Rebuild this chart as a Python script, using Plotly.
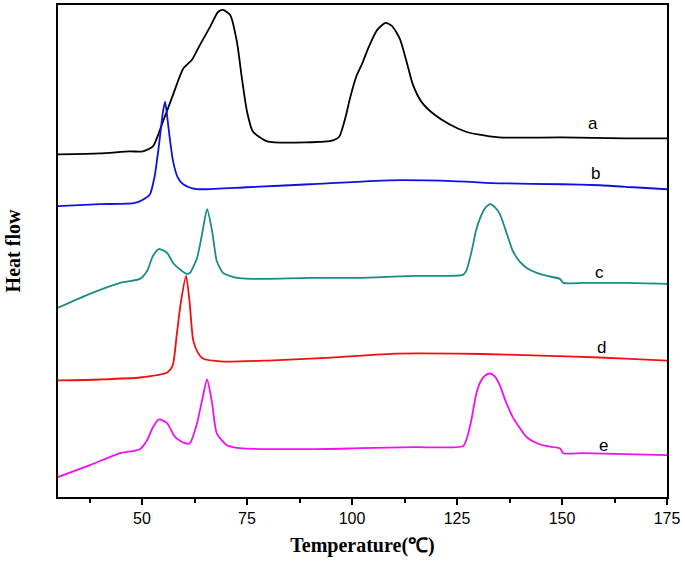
import plotly.graph_objects as go

# Temperature (°C) and heat-flow (arbitrary units, curves offset vertically)
T_a = [30, 40, 47.1, 50.2, 52.6, 55, 57.4, 59.8, 61.9, 63.8, 66.2, 68.1, 69.3, 71, 72.6, 73.8, 75, 76.4, 79.8, 89, 95.5, 97, 98.5, 99.5, 101, 102.4, 104, 106, 108, 109.5, 111.4, 113, 114.5, 116.5, 119.3, 123.3, 127, 130, 135, 150, 165, 175]
H_a = [347, 348, 350, 350, 355, 380, 407, 433, 442, 457, 475, 490, 492, 487, 460, 423, 390, 370, 360, 359, 361, 365, 385, 403, 425, 438, 455, 472, 479, 476, 463, 440, 417, 400, 388, 377, 370, 367, 364, 364, 363, 363]

T_b = [30, 40, 48, 50, 51.9, 53, 54, 55, 55.5, 56, 56.7, 57.4, 58.5, 59.8, 62, 64.5, 75, 90, 109, 125, 135, 150, 159, 167, 175]
H_b = [295, 297, 298, 301, 307, 325, 355, 390, 400, 385, 360, 340, 324, 317, 313, 312, 314, 317, 321, 320, 318, 317, 316, 314, 312]

T_c = [30, 37.6, 44.8, 49.5, 51.2, 52.6, 54, 56, 57.4, 59.5, 60.7, 61.4, 63.1, 64.3, 65.5, 66.7, 67.8, 69.3, 72.6, 76, 90, 102, 115, 126.4, 127.2, 128.5, 129.5, 130.5, 131.7, 132.9, 134, 135.2, 136.5, 138.3, 140, 141.6, 144, 146.4, 149.5, 150.3, 155, 165, 175]
H_c = [193, 207, 218, 222, 230, 245, 252, 248, 238, 230, 227, 228, 243, 267, 292, 270, 240, 228, 223, 222, 223, 223, 225, 226, 230, 250, 270, 283, 293, 297, 294, 287, 272, 250, 239, 233, 228, 225, 222, 218, 218, 218, 217]

T_d = [30, 40, 49.5, 56, 57.3, 58.3, 59.3, 60.5, 61.3, 62.2, 63.3, 64.5, 69.3, 80, 95, 110.7, 125, 136.9, 153, 165, 175]
H_d = [120, 121, 123, 128, 135, 167, 200, 225, 200, 160, 148, 142, 139, 140, 143, 147, 147, 146, 144, 142, 140]

T_e = [30, 37.6, 44.8, 49.5, 51.2, 52.6, 54, 56, 57.9, 60.2, 61.4, 63.1, 64.3, 65.5, 66.7, 67.8, 70.2, 73.3, 90, 102, 115, 126.4, 127.2, 128.5, 129.5, 130.5, 131.7, 132.9, 134, 135.2, 136.5, 138.3, 140, 141.6, 144, 146.4, 149.5, 150.3, 155, 165, 175]
H_e = [23, 35, 47, 51, 60, 73, 81, 77, 63, 57, 57, 77, 100, 121, 97, 67, 55, 52, 51, 52, 53, 54, 60, 82, 105, 118, 125, 127, 124, 115, 100, 83, 72, 63, 57, 54, 52, 47, 47, 46, 45]

labels = ["a", "b", "c", "d", "e"]
label_T = [157.4, 157.9, 159, 159.3, 159.8]
label_H = [378, 328, 228, 153, 55]
colors = ["#000000", "#1010e0", "#1a8a8a", "#f01010", "#f010f0"]

x_ticks = [50, 75, 100, 125, 150, 175]
x_minor = [37.5, 62.5, 87.5, 112.5, 137.5, 162.5]

series = [(T_a, H_a), (T_b, H_b), (T_c, H_c), (T_d, H_d), (T_e, H_e)]

fig = go.Figure()
for (tx, hy), col, name in zip(series, colors, labels):
    fig.add_trace(go.Scatter(x=tx, y=hy, mode="lines", name=name,
                             line=dict(color=col, width=1.8, shape="spline", smoothing=0.6),
                             showlegend=False))

for lab, lt, lh in zip(labels, label_T, label_H):
    fig.add_annotation(x=lt, y=lh, text=lab, showarrow=False,
                       font=dict(family="Liberation Sans, Arial", size=17, color="black"))

fig.update_layout(
    width=685, height=570,
    margin=dict(l=58, r=18, t=3, b=73),
    plot_bgcolor="white", paper_bgcolor="white",
    xaxis=dict(range=[30, 175], tickvals=x_ticks, ticks="outside", ticklen=6, tickwidth=1.5,
               tickcolor="black", showline=True, linecolor="black", linewidth=1.5, mirror=True,
               showgrid=False, zeroline=False,
               tickfont=dict(family="Liberation Sans, Arial", size=16, color="black"),
               minor=dict(tickvals=x_minor, ticks="outside",
                          ticklen=4, tickwidth=1.5, tickcolor="black", showgrid=False),
               title=dict(text="Temperature(℃)", standoff=12,
                          font=dict(family="Liberation Serif, Times New Roman", size=20, color="black",
                                    weight="bold"))),
    yaxis=dict(range=[3, 497], showticklabels=False, ticks="", showline=True, linecolor="black",
               linewidth=1.5, mirror=True, showgrid=False, zeroline=False,
               title=dict(text="Heat flow", standoff=30,
                          font=dict(family="Liberation Serif, Times New Roman", size=20, color="black",
                                    weight="bold"))),
)

fig.write_html("out.html", config={"displayModeBar": False},
               post_script="document.body.style.margin='0';document.body.style.overflow='hidden';")
